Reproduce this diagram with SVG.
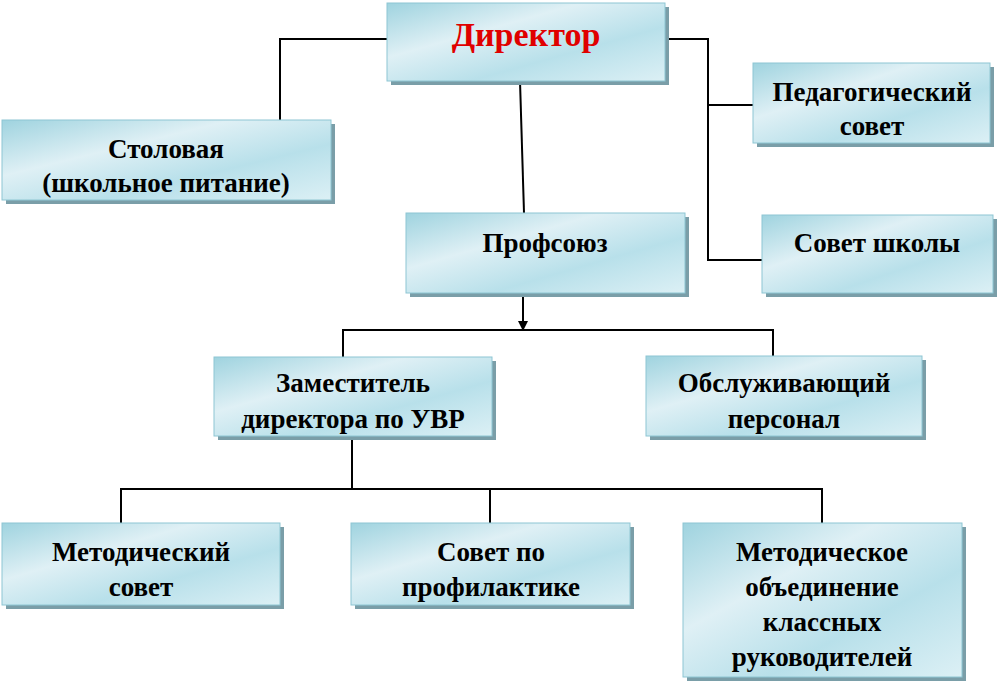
<svg xmlns="http://www.w3.org/2000/svg" width="1001" height="681" viewBox="0 0 1001 681" font-family="'Liberation Serif', 'DejaVu Serif', serif">
<defs>
<linearGradient id="g" x1="0" y1="0" x2="1" y2="1">
<stop offset="0" stop-color="#9fd3df"/><stop offset="0.35" stop-color="#dff0f5"/><stop offset="0.65" stop-color="#b8e0ea"/><stop offset="1" stop-color="#dcf0f5"/>
</linearGradient>
<marker id="a" markerWidth="10" markerHeight="10" refX="9" refY="5" orient="auto" markerUnits="userSpaceOnUse"><path d="M0,0 L10,5 L0,10 z" fill="#000"/></marker>
</defs>
<style>
.b{fill:url(#g);stroke:#8ec6d3;stroke-width:1}
.s{fill:#7a9ea8}
text{font-family:'Liberation Serif','DejaVu Serif',serif;font-weight:bold;font-size:27px;text-anchor:middle;fill:#000}
.r{fill:#e00000;font-size:34px}
.c line,.c polyline{stroke:#000;stroke-width:2;fill:none}
</style>
<rect width="1001" height="681" fill="#fff"/>
<g class="c">
<polyline points="387,39 280,39 280,120"/>
<polyline points="665,39 708,39 708,260 762,260"/>
<line x1="708" y1="105" x2="753" y2="105"/>
<line x1="520" y1="81" x2="524" y2="213"/>
<line x1="523" y1="293" x2="523" y2="330" marker-end="url(#a)"/>
<polyline points="343,357 343,330 773,330 773,357"/>
<line x1="352" y1="436" x2="352" y2="489"/>
<polyline points="121,523 121,489 822,489 822,523"/>
<line x1="490" y1="489" x2="490" y2="523"/>
</g>
<g id="director"><rect class="s" x="391" y="7" width="278" height="78"/><rect class="b" x="387" y="3" width="278" height="78"/><text class="r" x="526" y="46">Директор</text></g>
<g id="stolovaya"><rect class="s" x="6" y="124" width="329" height="80"/><rect class="b" x="2" y="120" width="329" height="80"/><text x="166" y="158">Столовая</text><text x="166" y="192">(школьное питание)</text></g>
<g id="pedsovet"><rect class="s" x="757" y="67" width="237" height="80"/><rect class="b" x="753" y="63" width="237" height="80"/><text x="872" y="101">Педагогический</text><text x="872" y="135">совет</text></g>
<g id="profsoyuz"><rect class="s" x="410" y="217" width="279" height="80"/><rect class="b" x="406" y="213" width="279" height="80"/><text x="545" y="252">Профсоюз</text></g>
<g id="sovetshkoly"><rect class="s" x="766" y="219" width="231" height="78"/><rect class="b" x="762" y="215" width="231" height="78"/><text x="877" y="252">Совет школы</text></g>
<g id="zam"><rect class="s" x="218" y="361" width="278" height="79"/><rect class="b" x="214" y="357" width="278" height="79"/><text x="353" y="392">Заместитель</text><text x="353" y="428">директора по УВР</text></g>
<g id="obsl"><rect class="s" x="650" y="360" width="276" height="80"/><rect class="b" x="646" y="356" width="276" height="80"/><text x="784" y="392">Обслуживающий</text><text x="784" y="428">персонал</text></g>
<g id="metsovet"><rect class="s" x="6" y="527" width="278" height="82"/><rect class="b" x="2" y="523" width="278" height="82"/><text x="141" y="561">Методический</text><text x="141" y="596">совет</text></g>
<g id="profilaktika"><rect class="s" x="355" y="527" width="279" height="82"/><rect class="b" x="351" y="523" width="279" height="82"/><text x="491" y="561">Совет по</text><text x="491" y="596">профилактике</text></g>
<g id="mo"><rect class="s" x="687" y="527" width="279" height="154"/><rect class="b" x="683" y="523" width="279" height="154"/><text x="822" y="561">Методическое</text><text x="822" y="596">объединение</text><text x="822" y="631">классных</text><text x="822" y="666">руководителей</text></g>
</svg>
